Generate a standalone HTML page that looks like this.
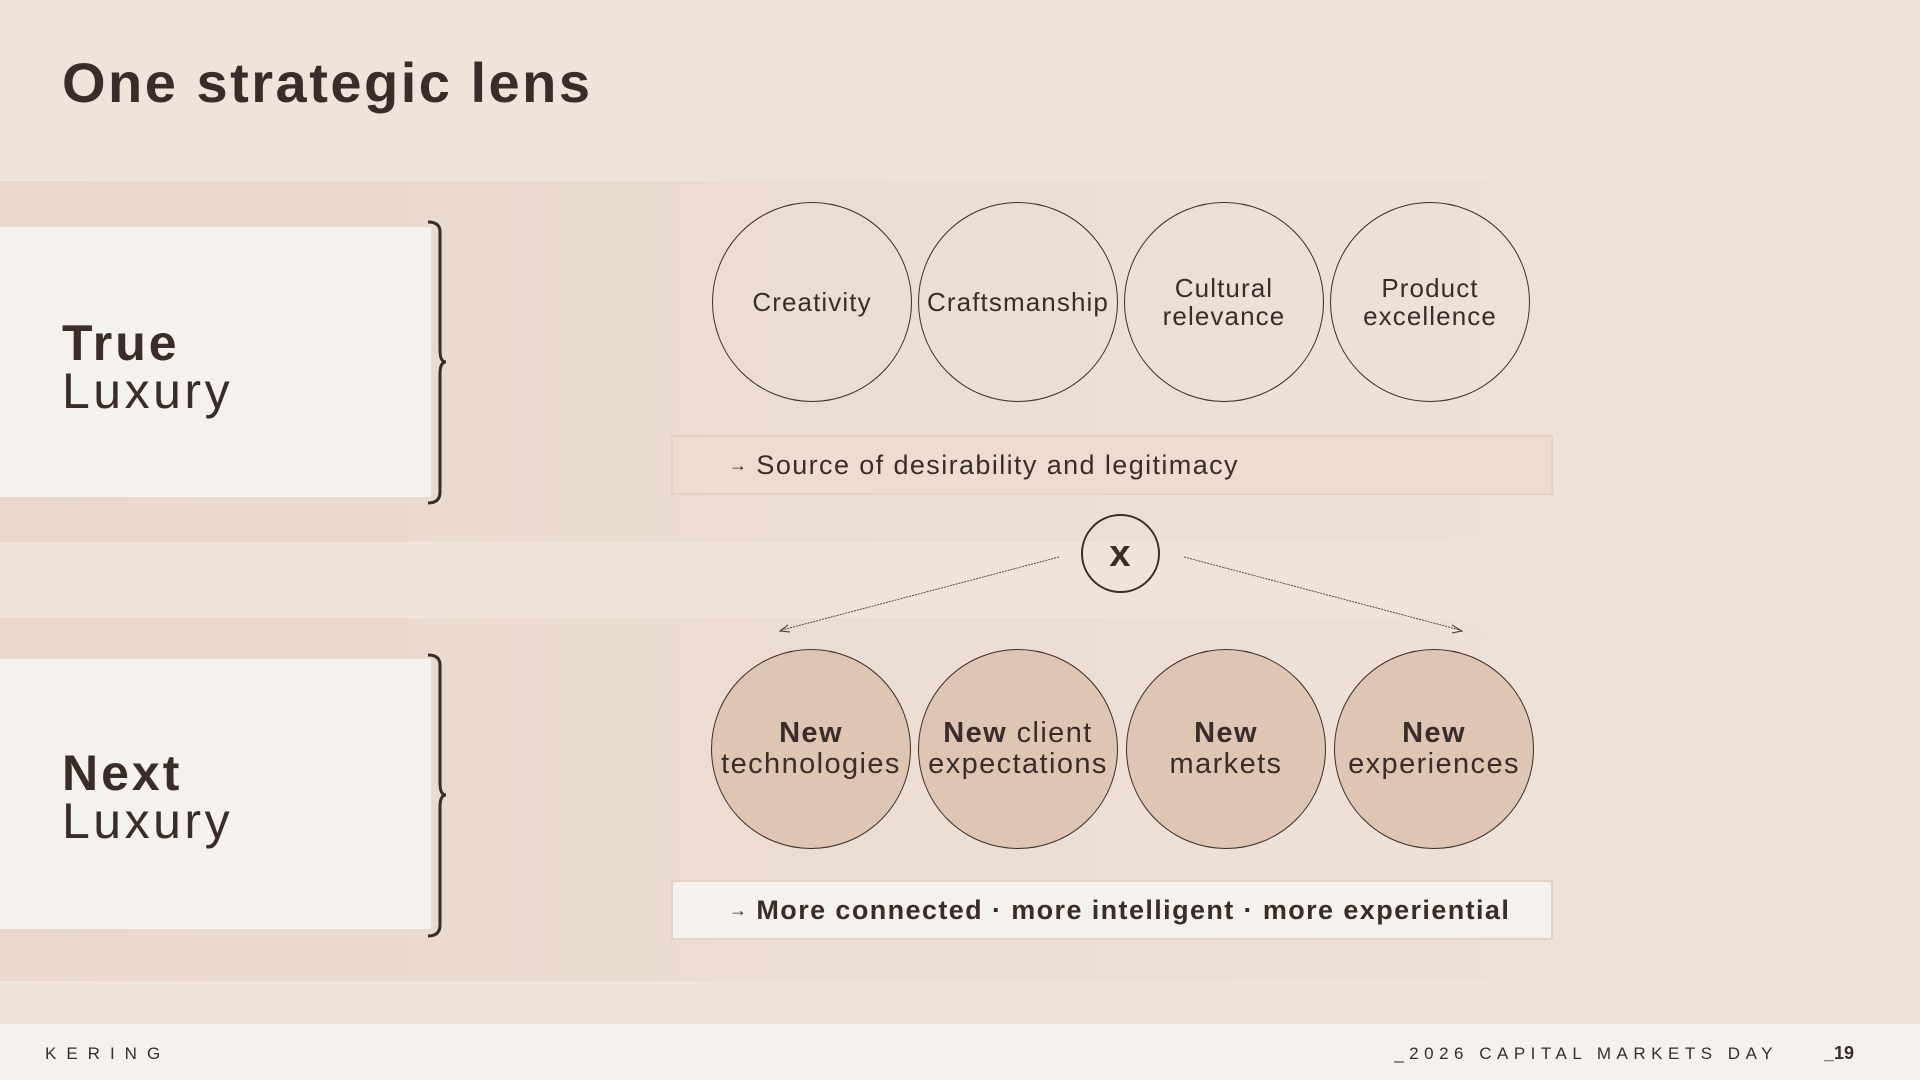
<!DOCTYPE html>
<html><head><meta charset="utf-8"><style>
*{margin:0;padding:0;box-sizing:border-box}
body{width:1920px;height:1080px;overflow:hidden;background:#efe3da;font-family:"Liberation Sans",sans-serif;color:#3a2d29;position:relative}
.a{position:absolute}
.band{left:0;width:1920px;background:linear-gradient(90deg,#e9d8cb,#eddfd5 60%,#efe3da)}
.lbox{left:0;width:431px;background:#f5f1ec}
.lt{left:62px;font-size:50px;line-height:50px;letter-spacing:3.5px}
.c{border:1.3px solid #3a2d29;border-radius:50%;width:200px;height:200px;display:flex;align-items:center;justify-content:center;text-align:center;font-size:26px;line-height:28px;letter-spacing:1.1px}
.c2{background:#dfc6b4;font-size:29px;line-height:31px;letter-spacing:1.4px}
.box{left:671px;width:882px;height:60px;border:2px solid #e6d0c2;display:flex;align-items:center;padding-left:56px;font-size:27px;letter-spacing:1.4px}
</style></head><body>
<div class="a" style="left:62px;top:50px;font-size:56px;font-weight:bold;letter-spacing:2.5px">One strategic lens</div>
<div class="a band" style="top:181px;height:361px"></div>
<div class="a band" style="top:618px;height:363px"></div>
<div class="a lbox" style="top:227px;height:270px"></div>
<div class="a lbox" style="top:659px;height:270px"></div>
<div class="a lt" style="top:318px;font-weight:bold;letter-spacing:3px">True</div>
<div class="a lt" style="top:366px">Luxury</div>
<div class="a lt" style="top:748px;font-weight:bold;letter-spacing:3px">Next</div>
<div class="a lt" style="top:796px">Luxury</div>
<svg class="a" style="left:0;top:0" width="1920" height="1080">
<g fill="none" stroke="#3a2d29" stroke-width="3">
<path d="M428 222 Q440 222 440 232 L440 350 Q440 362 446 362 Q440 362 440 374 L440 492 Q440 503 428 503"/>
<path d="M428 655 Q440 655 440 665 L440 783 Q440 795 446 795 Q440 795 440 807 L440 925 Q440 936 428 936"/>
</g>
<g stroke="#5a4a44" stroke-width="1" stroke-dasharray="2 1" fill="none">
<line x1="1059" y1="557" x2="782" y2="630"/>
<line x1="1184" y1="557" x2="1460" y2="630"/>
</g>
<path d="M788 625 L780 631 L790 632" stroke="#3a2d29" fill="none"/>
<path d="M1452 625 L1462 631 L1452 633" stroke="#3a2d29" fill="none"/>
</svg>
<div class="a c" style="left:712px;top:202px">Creativity</div>
<div class="a c" style="left:918px;top:202px">Craftsmanship</div>
<div class="a c" style="left:1124px;top:202px">Cultural<br>relevance</div>
<div class="a c" style="left:1330px;top:202px">Product<br>excellence</div>
<div class="a box" style="top:435px;background:#eddcd0"><span style="font-size:18px;margin-right:8px">→</span>Source of desirability and legitimacy</div>
<div class="a c" style="left:1081px;top:514px;width:79px;height:79px;border-width:2px;font-size:38px;font-weight:bold">x</div>
<div class="a c c2" style="left:711px;top:649px"><div><b>New</b><br>technologies</div></div>
<div class="a c c2" style="left:918px;top:649px"><div><b>New</b> client<br>expectations</div></div>
<div class="a c c2" style="left:1126px;top:649px"><div><b>New</b><br>markets</div></div>
<div class="a c c2" style="left:1334px;top:649px"><div><b>New</b><br>experiences</div></div>
<div class="a box" style="top:880px;background:#f5f1ec;font-weight:bold"><span style="font-size:18px;margin-right:8px">→</span>More connected · more intelligent · more experiential</div>
<div class="a" style="left:0;top:1024px;width:1920px;height:56px;background:#f5f1ec"></div>
<div class="a" style="left:45px;top:1044px;font-size:17px;letter-spacing:10px">KERING</div>
<div class="a" style="right:142px;top:1044px;font-size:17px;letter-spacing:5.5px">_2026 CAPITAL MARKETS DAY</div>
<div class="a" style="left:1824px;top:1043px;font-size:18px;font-weight:bold">_19</div>
</body></html>
